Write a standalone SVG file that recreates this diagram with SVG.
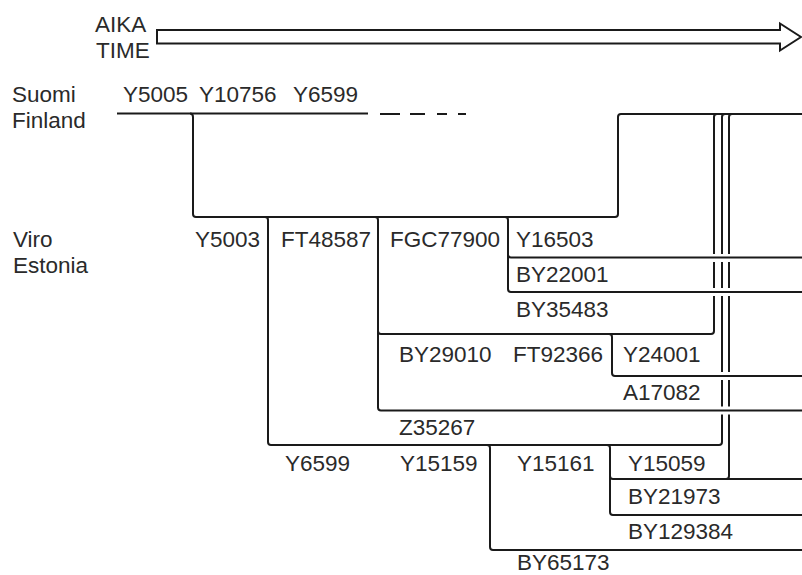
<svg xmlns="http://www.w3.org/2000/svg" width="802" height="575" viewBox="0 0 802 575">
<style>
  .t { font-family: "Liberation Sans", Arial, sans-serif; font-size: 22.5px; fill: #2a2a2a; }
  .ln { fill: none; stroke: #1a1a1a; stroke-width: 2; }
</style>
<rect x="0" y="0" width="802" height="575" fill="#fff"/>
<g id="time-axis">
  <polygon points="157,30 780,30 780,23.5 801,37 780,50.5 780,43.5 157,43.5" fill="#fff" stroke="#1a1a1a" stroke-width="2" stroke-linejoin="miter"/>
  <text class="t" x="95" y="31.5">AIKA</text>
  <text class="t" x="96" y="58">TIME</text>
</g>
<g id="row-labels">
  <text class="t" x="12" y="102">Suomi</text>
  <text class="t" x="12" y="128">Finland</text>
  <text class="t" x="13" y="247">Viro</text>
  <text class="t" x="13" y="273">Estonia</text>
</g>
<g id="connectors">
  <path class="ln" d="M117,113.5 H368"/>
  <path class="ln" d="M380,114 H400 M410,114 H425 M437,114 H447 M458,114 H466"/>
  <path class="ln" d="M190,113.5 Q193,113.5 193,117 V214 Q193,217 196,217 H615 Q618,217 618,214 V117 Q618,114 621,114 H802"/>
  <path class="ln" d="M505,217 Q508,217 508,220 V289 Q508,292 511,292 H802"/>
  <path class="ln" d="M508,254.5 Q508,257.5 511,257.5 H802"/>
  <path class="ln" d="M375,217 Q378,217 378,220 V407.5 Q378,410.5 381,410.5 H802"/>
  <path class="ln" d="M378,331 Q378,334 381,334 H711 Q714,334 714,331 V296 M714,288 V262 M714,254 V117 Q714,114 717,114"/>
  <path class="ln" d="M609,334 Q612,334 612,337 V373 Q612,376 615,376 H802"/>
  <path class="ln" d="M265,217 Q268,217 268,220 V442 Q268,445 271,445 H719 Q722,445 722,442 V414.5 M722,406.5 V380 M722,372 V296 M722,288 V262 M722,254 V117 Q722,114 725,114"/>
  <path class="ln" d="M729,117 V254 M729,262 V288 M729,296 V372 M729,380 V406.5 M729,414.5 V476 Q729,479 726,479"/>
  <path class="ln" d="M729,117 Q729,114 732,114"/>
  <path class="ln" d="M607,445 Q610,445 610,448 V512 Q610,515 613,515 H802"/>
  <path class="ln" d="M610,476 Q610,479 613,479 H802"/>
  <path class="ln" d="M487,445 Q490,445 490,448 V547 Q490,550 493,550 H802"/>
</g>
<g id="finland-labels">
  <text class="t" x="123" y="102">Y5005</text>
  <text class="t" x="199" y="102">Y10756</text>
  <text class="t" x="293" y="102">Y6599</text>
</g>
<g id="estonia-labels">
  <text class="t" x="195" y="247">Y5003</text>
  <text class="t" x="281" y="247">FT48587</text>
  <text class="t" x="390" y="247">FGC77900</text>
  <text class="t" x="516" y="247">Y16503</text>
  <text class="t" x="516" y="282">BY22001</text>
  <text class="t" x="516" y="317">BY35483</text>
  <text class="t" x="399" y="362">BY29010</text>
  <text class="t" x="513" y="362">FT92366</text>
  <text class="t" x="623" y="362">Y24001</text>
  <text class="t" x="623" y="400">A17082</text>
  <text class="t" x="399" y="435">Z35267</text>
  <text class="t" x="285" y="471">Y6599</text>
  <text class="t" x="400" y="471">Y15159</text>
  <text class="t" x="517" y="471">Y15161</text>
  <text class="t" x="628" y="471">Y15059</text>
  <text class="t" x="628" y="504">BY21973</text>
  <text class="t" x="628" y="539">BY129384</text>
  <text class="t" x="517" y="570">BY65173</text>
</g>
</svg>
